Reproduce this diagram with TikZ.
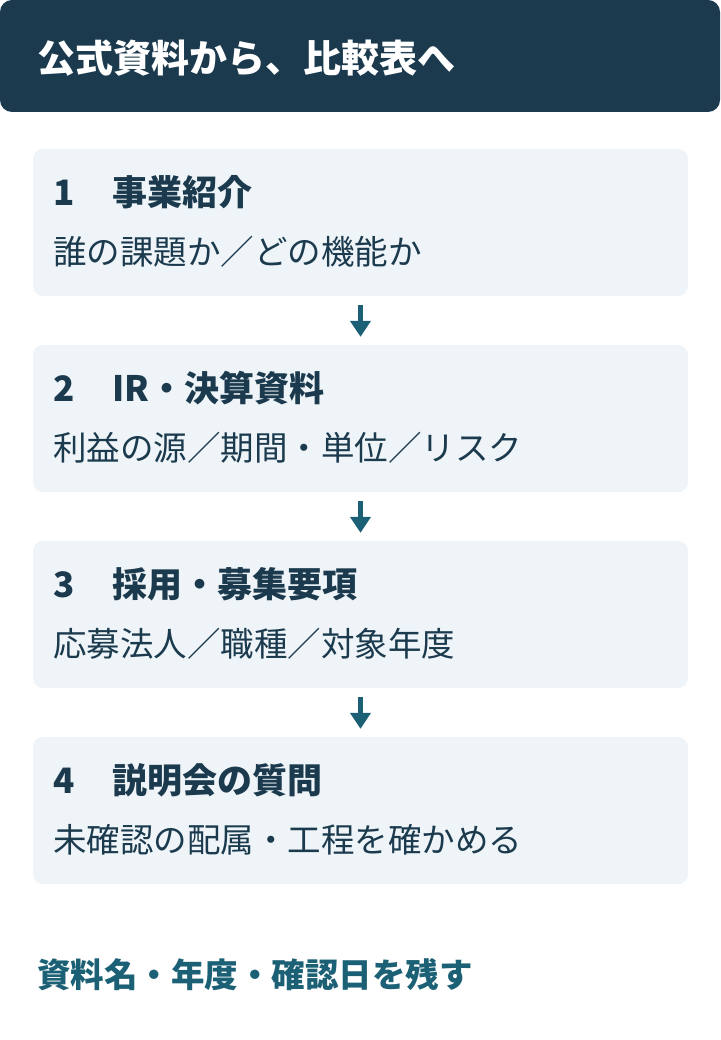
\documentclass[tikz,border=0pt]{standalone}
\usepackage{fontspec}
\setmainfont{Noto Sans CJK JP}
\usetikzlibrary{arrows.meta}
\definecolor{navy}{HTML}{1B3A4E}
\definecolor{tealdark}{HTML}{1B6075}
\definecolor{boxfill}{HTML}{EEF4F7}
\tikzset{
  stepbox/.style={fill=boxfill, rounded corners=10pt, minimum width=655pt, minimum height=147pt, inner sep=0pt},
  headtext/.style={anchor=west, text=navy, inner sep=0pt, font=\fontsize{35}{40}\selectfont\bfseries},
  bodytext/.style={anchor=west, text=navy, inner sep=0pt, font=\fontsize{33.5}{40}\selectfont},
  flow/.style={draw=tealdark, line width=5pt, shorten <=9pt, shorten >=8pt, -{Triangle[width=20pt,length=16pt]}}
}
\begin{document}
\begin{tikzpicture}[x=1pt,y=-1pt]
\useasboundingbox[fill=white] (0,0) rectangle (720,1040);
% header
\fill[navy, rounded corners=12pt] (0,0) rectangle (720,112);
\node[anchor=west, text=white, inner sep=0pt, font=\fontsize{38}{44}\selectfont\bfseries] (title) at (37,58) {公式資料から、比較表へ};
% steps
\node[stepbox] (s1) at (360.5,222.5) {};
\node[stepbox] (s2) at (360.5,418.5) {};
\node[stepbox] (s3) at (360.5,614.5) {};
\node[stepbox] (s4) at (360.5,810.5) {};
\node[headtext] (h1) at (53,192) {\makebox[59pt][l]{1}事業紹介};
\node[bodytext] (t1) at (53,252) {誰の課題か／どの機能か};
\node[headtext] (h2) at (53,388) {\makebox[59pt][l]{2}IR・決算資料};
\node[bodytext] (t2) at (53,448) {利益の源／期間・単位／リスク};
\node[headtext] (h3) at (53,584) {\makebox[59pt][l]{3}採用・募集要項};
\node[bodytext] (t3) at (53,644) {応募法人／職種／対象年度};
\node[headtext] (h4) at (53,780) {\makebox[59pt][l]{4}説明会の質問};
\node[bodytext] (t4) at (53,840) {未確認の配属・工程を確かめる};
\draw[flow] (s1) -- (s2);
\draw[flow] (s2) -- (s3);
\draw[flow] (s3) -- (s4);
% footer
\node[anchor=west, text=tealdark, inner sep=0pt, font=\fontsize{33.5}{40}\selectfont\bfseries] (note) at (37,975) {資料名・年度・確認日を残す};
\end{tikzpicture}
\end{document}
